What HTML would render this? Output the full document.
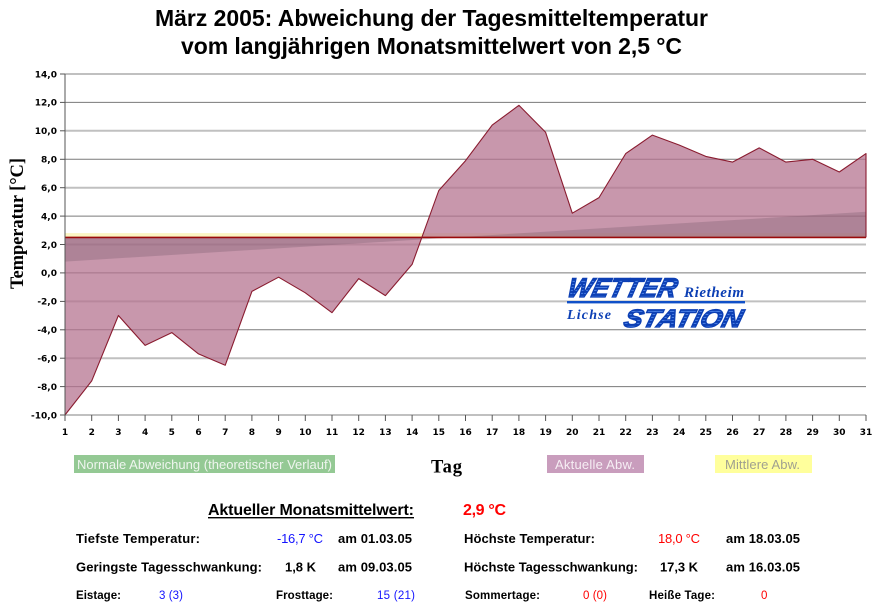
<!DOCTYPE html>
<html><head><meta charset="utf-8"><style>
html,body{margin:0;padding:0;background:#fff;}
svg{display:block;}
</style></head><body>
<svg width="878" height="608" viewBox="0 0 878 608" xmlns="http://www.w3.org/2000/svg">
<defs>
<pattern id="stripe" patternUnits="userSpaceOnUse" width="4" height="3">
<rect width="4" height="3" fill="#0c3fb4"/>
<rect y="2" width="4" height="1" fill="#4d82e6"/>
</pattern>
</defs>
<rect width="878" height="608" fill="#fff"/>

<!-- Title -->
<g font-family="'Liberation Sans', Arial, sans-serif" font-weight="bold" font-size="23" fill="#000">
<text x="155" y="26" textLength="553">März 2005: Abweichung der Tagesmitteltemperatur</text>
<text x="181" y="54" textLength="501">vom langjährigen Monatsmittelwert von 2,5 °C</text>
</g>

<!-- Gridlines -->
<g>
<line x1="65" y1="74" x2="866" y2="74" stroke="#c0c0c0" stroke-width="2"/>
<line x1="65" y1="102.4" x2="866" y2="102.4" stroke="#7a7a7a" stroke-width="1"/>
<line x1="65" y1="130.8" x2="866" y2="130.8" stroke="#c0c0c0" stroke-width="2"/>
<line x1="65" y1="159.3" x2="866" y2="159.3" stroke="#7a7a7a" stroke-width="1"/>
<line x1="65" y1="187.7" x2="866" y2="187.7" stroke="#c0c0c0" stroke-width="2"/>
<line x1="65" y1="216.1" x2="866" y2="216.1" stroke="#7a7a7a" stroke-width="1"/>
<line x1="65" y1="244.5" x2="866" y2="244.5" stroke="#c0c0c0" stroke-width="2"/>
<line x1="65" y1="272.9" x2="866" y2="272.9" stroke="#7a7a7a" stroke-width="1"/>
<line x1="65" y1="301.4" x2="866" y2="301.4" stroke="#c0c0c0" stroke-width="2"/>
<line x1="65" y1="329.8" x2="866" y2="329.8" stroke="#7a7a7a" stroke-width="1"/>
<line x1="65" y1="358.2" x2="866" y2="358.2" stroke="#c0c0c0" stroke-width="2"/>
<line x1="65" y1="386.6" x2="866" y2="386.6" stroke="#7a7a7a" stroke-width="1"/>
<line x1="65" y1="415" x2="866" y2="415" stroke="#c0c0c0" stroke-width="2"/>
</g>

<!-- Mittlere Abw. (yellow) -->
<rect x="65" y="233.1" width="801" height="4.3" fill="#fbf6c4"/>

<!-- Aktuelle Abw. (pink) -->
<polygon fill="#b5738f" fill-opacity="0.74" points="65,415 91.7,380.9 118.4,315.5 145.1,345.4 171.8,332.6 198.5,353.9 225.2,365.3 251.9,291.4 278.6,277.2 305.3,292.8 332,312.7 358.7,278.6 385.4,295.6 412.1,264.4 438.8,190.5 465.5,160.7 492.2,125.1 518.9,105.3 545.6,132.3 572.3,213.2 599,197.6 625.7,153.6 652.4,135.1 679.1,145 705.8,156.4 732.5,162.1 759.2,147.9 785.9,162.1 812.6,159.3 839.3,172 866,153.6 866,237.4 65,237.4"/>

<!-- Normale Abweichung (theoretical) -->
<polygon fill="#7a5a6e" fill-opacity="0.32" points="65,261.6 866,211.8 866,237.4 65,237.4"/>

<!-- Baseline 2.5 -->
<line x1="65" y1="237.4" x2="866" y2="237.4" stroke="#9a0a0a" stroke-width="1.6"/>

<!-- Curve outline -->
<polyline fill="none" stroke="#8a1c30" stroke-width="1.1" stroke-linejoin="round" points="65,415 91.7,380.9 118.4,315.5 145.1,345.4 171.8,332.6 198.5,353.9 225.2,365.3 251.9,291.4 278.6,277.2 305.3,292.8 332,312.7 358.7,278.6 385.4,295.6 412.1,264.4 438.8,190.5 465.5,160.7 492.2,125.1 518.9,105.3 545.6,132.3 572.3,213.2 599,197.6 625.7,153.6 652.4,135.1 679.1,145 705.8,156.4 732.5,162.1 759.2,147.9 785.9,162.1 812.6,159.3 839.3,172 866,153.6 866,237.4"/>

<!-- Y axis -->
<line x1="65" y1="74" x2="65" y2="420" stroke="#555" stroke-width="1"/>
<g stroke="#555" stroke-width="1">
<line x1="60" y1="74" x2="65" y2="74"/>
<line x1="60" y1="102.4" x2="65" y2="102.4"/>
<line x1="60" y1="130.8" x2="65" y2="130.8"/>
<line x1="60" y1="159.3" x2="65" y2="159.3"/>
<line x1="60" y1="187.7" x2="65" y2="187.7"/>
<line x1="60" y1="216.1" x2="65" y2="216.1"/>
<line x1="60" y1="244.5" x2="65" y2="244.5"/>
<line x1="60" y1="272.9" x2="65" y2="272.9"/>
<line x1="60" y1="301.4" x2="65" y2="301.4"/>
<line x1="60" y1="329.8" x2="65" y2="329.8"/>
<line x1="60" y1="358.2" x2="65" y2="358.2"/>
<line x1="60" y1="386.6" x2="65" y2="386.6"/>
<line x1="60" y1="415" x2="65" y2="415"/>
</g>
<g font-family="'DejaVu Sans', Verdana, sans-serif" font-weight="bold" font-size="9" fill="#000" text-anchor="end">
<text x="57" y="77.3">14,0</text>
<text x="57" y="105.7">12,0</text>
<text x="57" y="134.1">10,0</text>
<text x="57" y="162.6">8,0</text>
<text x="57" y="191">6,0</text>
<text x="57" y="219.4">4,0</text>
<text x="57" y="247.8">2,0</text>
<text x="57" y="276.2">0,0</text>
<text x="57" y="304.7">-2,0</text>
<text x="57" y="333.1">-4,0</text>
<text x="57" y="361.5">-6,0</text>
<text x="57" y="389.9">-8,0</text>
<text x="57" y="418.3">-10,0</text>
</g>

<!-- X ticks -->
<g stroke="#555" stroke-width="1">
<line x1="65" y1="415" x2="65" y2="421"/><line x1="91.7" y1="415" x2="91.7" y2="421"/><line x1="118.4" y1="415" x2="118.4" y2="421"/><line x1="145.1" y1="415" x2="145.1" y2="421"/><line x1="171.8" y1="415" x2="171.8" y2="421"/><line x1="198.5" y1="415" x2="198.5" y2="421"/><line x1="225.2" y1="415" x2="225.2" y2="421"/><line x1="251.9" y1="415" x2="251.9" y2="421"/><line x1="278.6" y1="415" x2="278.6" y2="421"/><line x1="305.3" y1="415" x2="305.3" y2="421"/><line x1="332" y1="415" x2="332" y2="421"/><line x1="358.7" y1="415" x2="358.7" y2="421"/><line x1="385.4" y1="415" x2="385.4" y2="421"/><line x1="412.1" y1="415" x2="412.1" y2="421"/><line x1="438.8" y1="415" x2="438.8" y2="421"/><line x1="465.5" y1="415" x2="465.5" y2="421"/><line x1="492.2" y1="415" x2="492.2" y2="421"/><line x1="518.9" y1="415" x2="518.9" y2="421"/><line x1="545.6" y1="415" x2="545.6" y2="421"/><line x1="572.3" y1="415" x2="572.3" y2="421"/><line x1="599" y1="415" x2="599" y2="421"/><line x1="625.7" y1="415" x2="625.7" y2="421"/><line x1="652.4" y1="415" x2="652.4" y2="421"/><line x1="679.1" y1="415" x2="679.1" y2="421"/><line x1="705.8" y1="415" x2="705.8" y2="421"/><line x1="732.5" y1="415" x2="732.5" y2="421"/><line x1="759.2" y1="415" x2="759.2" y2="421"/><line x1="785.9" y1="415" x2="785.9" y2="421"/><line x1="812.6" y1="415" x2="812.6" y2="421"/><line x1="839.3" y1="415" x2="839.3" y2="421"/><line x1="866" y1="415" x2="866" y2="421"/>
</g>
<g font-family="'DejaVu Sans', Verdana, sans-serif" font-weight="bold" font-size="9" fill="#000" text-anchor="middle">
<text x="65" y="435">1</text><text x="91.7" y="435">2</text><text x="118.4" y="435">3</text><text x="145.1" y="435">4</text><text x="171.8" y="435">5</text><text x="198.5" y="435">6</text><text x="225.2" y="435">7</text><text x="251.9" y="435">8</text><text x="278.6" y="435">9</text><text x="305.3" y="435">10</text><text x="332" y="435">11</text><text x="358.7" y="435">12</text><text x="385.4" y="435">13</text><text x="412.1" y="435">14</text><text x="438.8" y="435">15</text><text x="465.5" y="435">16</text><text x="492.2" y="435">17</text><text x="518.9" y="435">18</text><text x="545.6" y="435">19</text><text x="572.3" y="435">20</text><text x="599" y="435">21</text><text x="625.7" y="435">22</text><text x="652.4" y="435">23</text><text x="679.1" y="435">24</text><text x="705.8" y="435">25</text><text x="732.5" y="435">26</text><text x="759.2" y="435">27</text><text x="785.9" y="435">28</text><text x="812.6" y="435">29</text><text x="839.3" y="435">30</text><text x="866" y="435">31</text>
</g>

<!-- Axis titles -->
<text transform="translate(23,289) rotate(-90)" font-family="'Liberation Serif', 'Times New Roman', serif" font-weight="bold" font-size="18.5" textLength="131" fill="#000">Temperatur [°C]</text>
<text x="431" y="472.5" font-family="'Liberation Serif', 'Times New Roman', serif" font-weight="bold" font-size="18.5" textLength="31" fill="#000">Tag</text>

<!-- Logo -->
<g font-style="italic" font-weight="bold">
<text x="567" y="297" font-family="'Liberation Sans', Arial, sans-serif" font-size="27" textLength="109" lengthAdjust="spacingAndGlyphs" fill="url(#stripe)" stroke="#0c3fb4" stroke-width="1.3" transform="skewX(-14) translate(73,0)">WETTER</text>
<text x="684" y="297" font-family="'Liberation Serif', serif" font-size="15" textLength="60" fill="#0c3fb4">Rietheim</text>
<rect x="567" y="301" width="178" height="2.4" fill="#1050c8"/>
<text x="567" y="319" font-family="'Liberation Serif', serif" font-size="14" textLength="44" fill="#0c3fb4">Lichse</text>
<text x="624" y="327" font-family="'Liberation Sans', Arial, sans-serif" font-size="25" textLength="118" lengthAdjust="spacingAndGlyphs" fill="url(#stripe)" stroke="#0c3fb4" stroke-width="1.3" transform="skewX(-14) translate(80,0)">STATION</text>
</g>

<!-- Legend -->
<rect x="74" y="455" width="261" height="18" fill="#94c994"/>
<text x="77" y="469" font-family="'Liberation Sans', Arial, sans-serif" font-size="13" textLength="255" fill="#eef5ee">Normale Abweichung (theoretischer Verlauf)</text>
<rect x="547" y="455" width="97" height="18" fill="#c99dbd"/>
<text x="555" y="469" font-family="'Liberation Sans', Arial, sans-serif" font-size="13" textLength="80" fill="#f6eef4">Aktuelle Abw.</text>
<rect x="715" y="455" width="97" height="18" fill="#ffff9c"/>
<text x="725" y="469" font-family="'Liberation Sans', Arial, sans-serif" font-size="13" textLength="75" fill="#a0a090">Mittlere Abw.</text>

<!-- Stats -->
<g font-family="'Liberation Sans', Arial, sans-serif" fill="#000">
<text x="208" y="515" font-size="16" font-weight="bold" textLength="206">Aktueller Monatsmittelwert:</text>
<rect x="208" y="517" width="206" height="1.4" fill="#000"/>
<text x="463" y="515" font-size="16" font-weight="bold" textLength="43" fill="#ff0000">2,9 °C</text>

<g font-size="13">
<text x="76" y="543" font-weight="bold" textLength="124">Tiefste Temperatur:</text>
<text x="277" y="543" textLength="46" fill="#1414ff">-16,7 °C</text>
<text x="338" y="543" font-weight="bold" textLength="74">am 01.03.05</text>
<text x="464" y="543" font-weight="bold" textLength="131">Höchste Temperatur:</text>
<text x="658" y="543" textLength="42" fill="#ff0000">18,0 °C</text>
<text x="726" y="543" font-weight="bold" textLength="74">am 18.03.05</text>

<text x="76" y="571.5" font-weight="bold" textLength="186">Geringste Tagesschwankung:</text>
<text x="285" y="571.5" font-weight="bold" textLength="31">1,8 K</text>
<text x="338" y="571.5" font-weight="bold" textLength="74">am 09.03.05</text>
<text x="464" y="571.5" font-weight="bold" textLength="174">Höchste Tagesschwankung:</text>
<text x="660" y="571.5" font-weight="bold" textLength="38">17,3 K</text>
<text x="726" y="571.5" font-weight="bold" textLength="74">am 16.03.05</text>
</g>

<g font-size="11.5">
<text x="76" y="599" font-weight="bold" textLength="45">Eistage:</text>
<text x="159" y="599" textLength="24" fill="#1414ff">3 (3)</text>
<text x="276" y="599" font-weight="bold" textLength="57">Frosttage:</text>
<text x="377" y="599" textLength="38" fill="#1414ff">15 (21)</text>
<text x="465" y="599" font-weight="bold" textLength="75">Sommertage:</text>
<text x="583" y="599" textLength="24" fill="#ff0000">0 (0)</text>
<text x="649" y="599" font-weight="bold" textLength="66">Heiße Tage:</text>
<text x="761" y="599" fill="#ff0000">0</text>
</g>
</g>
</svg>
</body></html>
